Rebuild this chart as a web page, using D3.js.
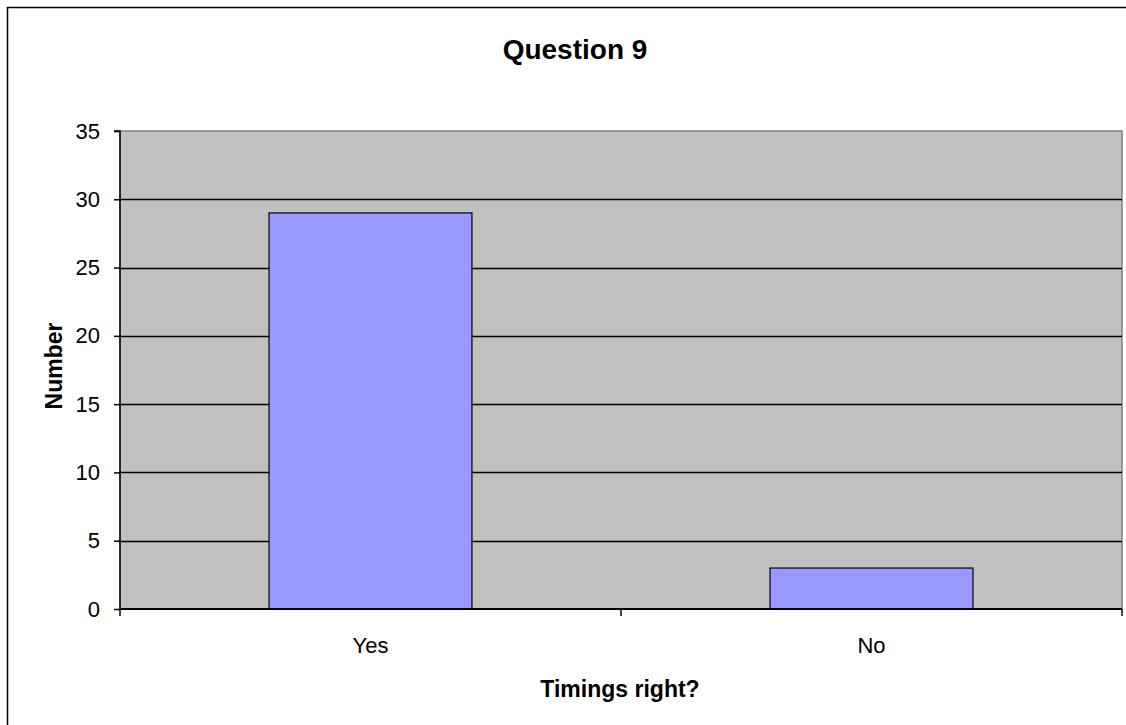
<!DOCTYPE html>
<html><head><meta charset="utf-8">
<script src="https://cdn.jsdelivr.net/npm/d3@7"></script>
<style>body{margin:0;background:#fff;} text{font-family:"Liberation Sans",Arial,sans-serif;}</style>
</head><body>
<svg id="c" width="1126" height="725"></svg>
<script>
const categories = ["Yes", "No"];
const values = [29, 3];
const yTicks = [0, 5, 10, 15, 20, 25, 30, 35];
const title = "Question 9";
const xTitle = "Timings right?";
const yTitle = "Number";

const svg = d3.select("#c");
svg.append("rect").attr("x", 7.5).attr("y", 7.5).attr("width", 1130).attr("height", 730)
  .attr("fill", "#fff").attr("stroke", "#000").attr("stroke-width", 1.5);

const L = 120, R = 1122, T = 131, B = 609;
const x = d3.scaleBand().domain(categories).range([L, R]).padding(0);
const y = d3.scaleLinear().domain([0, 35]).range([B, T]);

svg.append("rect").attr("x", L).attr("y", T).attr("width", R - L).attr("height", B - T)
  .attr("fill", "#C0C0C0").attr("stroke", "#808080").attr("stroke-width", 1.5);

svg.append("g").selectAll("line").data(yTicks.filter(d => d > 0 && d < 35)).join("line")
  .attr("x1", L).attr("x2", R).attr("y1", d => Math.round(y(d)) + 0.5).attr("y2", d => Math.round(y(d)) + 0.5)
  .attr("stroke", "#000").attr("stroke-width", 1.5);

const bw = x.bandwidth() * 0.405;
svg.append("g").selectAll("rect").data(categories).join("rect")
  .attr("x", (d) => x(d) + x.bandwidth() / 2 - bw / 2)
  .attr("y", (d, i) => y(values[i]))
  .attr("width", bw)
  .attr("height", (d, i) => B - y(values[i]))
  .attr("fill", "#9999FF").attr("stroke", "#000").attr("stroke-width", 1.2);

// Y axis
const yAxis = d3.axisLeft(y).tickValues(yTicks).tickSize(6).tickPadding(14);
const gy = svg.append("g").attr("transform", `translate(${L},0)`).call(yAxis);
gy.select(".domain").attr("stroke", "#000").attr("stroke-width", 1.5).attr("d", `M-6,${T}H0V${B}`);
gy.selectAll(".tick line").attr("stroke", "#000").attr("stroke-width", 1.5);
gy.selectAll(".tick text").attr("font-size", 22).attr("fill", "#000").attr("font-family", "Liberation Sans, Arial, sans-serif");

// X axis
const gx = svg.append("g").attr("transform", `translate(0,${B})`);
gx.append("line").attr("x1", L).attr("x2", R).attr("y1", 0).attr("y2", 0).attr("stroke", "#000").attr("stroke-width", 2);
const xEdges = [L, ...categories.map(c => x(c) + x.bandwidth())];
gx.selectAll("line.t").data(xEdges).join("line").attr("class", "t")
  .attr("x1", d => d).attr("x2", d => d).attr("y1", 0).attr("y2", 7)
  .attr("stroke", "#000").attr("stroke-width", 1.5);
gx.selectAll("text").data(categories).join("text")
  .attr("x", d => x(d) + x.bandwidth() / 2).attr("y", 44)
  .attr("text-anchor", "middle").attr("font-size", 22).text(d => d);

svg.append("text").attr("x", 575).attr("y", 59).attr("text-anchor", "middle")
  .attr("font-size", 28).attr("font-weight", "bold").text(title);
svg.append("text").attr("x", 620).attr("y", 697).attr("text-anchor", "middle")
  .attr("font-size", 23).attr("font-weight", "bold").text(xTitle);
svg.append("text").attr("transform", `translate(62,${(T + B) / 2 - 4}) rotate(-90)`).attr("text-anchor", "middle")
  .attr("font-size", 23).attr("font-weight", "bold").text(yTitle);
</script>
</body></html>
